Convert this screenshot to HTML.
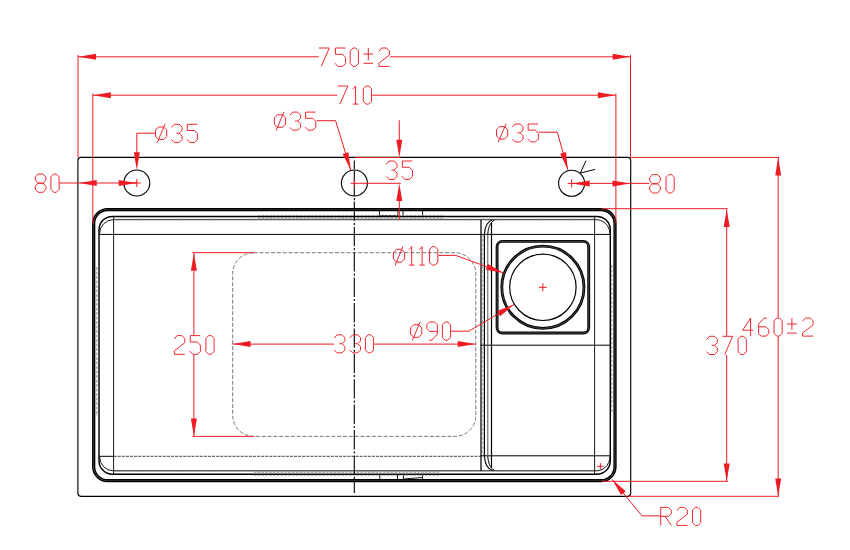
<!DOCTYPE html>
<html><head><meta charset="utf-8"><title>Sink drawing</title>
<style>html,body{margin:0;padding:0;background:#fff;font-family:"Liberation Sans",sans-serif;}svg{display:block;position:absolute;left:0;top:0}</style>
</head><body>
<svg width="850" height="550" viewBox="0 0 850 550">
<rect width="850" height="550" fill="#fff"/>
<rect x="77.9" y="157.4" width="552.80" height="338.90" rx="3" ry="3" fill="none" stroke="#000" stroke-width="1.15" />
<rect x="93.7" y="209.6" width="521.30" height="271.00" rx="13.9" ry="13.9" fill="none" stroke="#555" stroke-width="1.0" />
<rect x="92.8" y="208.7" width="523.10" height="272.80" rx="14.8" ry="14.8" fill="none" stroke="#000" stroke-width="1.5" />
<rect x="94.6" y="210.5" width="519.50" height="269.20" rx="13.0" ry="13.0" fill="none" stroke="#000" stroke-width="1.4" />
<rect x="99.0" y="216.4" width="511.30" height="257.90" rx="13.5" ry="13.5" fill="none" stroke="#000" stroke-width="1.45" />
<path d="M99.6,233.5 A13.8,13.8 0 0 1 113.4,219.7 L594.8,219.7 A13.8,13.8 0 0 1 609.8,233.5" fill="none" stroke="#000" stroke-width="0.9" />
<path d="M99.6,457 A13.8,13.8 0 0 0 113.4,470.8 L594.8,470.8 A13.8,13.8 0 0 0 609.8,457" fill="none" stroke="#000" stroke-width="0.9" />
<line x1="113.6" y1="216.3" x2="113.6" y2="474.4" stroke="#000" stroke-width="0.9" />
<line x1="594.6" y1="216.3" x2="594.6" y2="474.4" stroke="#000" stroke-width="0.9" />
<line x1="99" y1="234.4" x2="610.4" y2="234.4" stroke="#000" stroke-width="1.0" />
<line x1="99" y1="456.3" x2="113.6" y2="456.3" stroke="#000" stroke-width="1.0" />
<line x1="113.6" y1="456.3" x2="480.6" y2="456.3" stroke="#111" stroke-width="0.8" stroke-dasharray="3 1.1"/>
<line x1="480.6" y1="455.8" x2="610.4" y2="455.8" stroke="#000" stroke-width="1.0" />
<line x1="480.6" y1="345.2" x2="610.2" y2="345.2" stroke="#000" stroke-width="1.0" />
<line x1="481.0" y1="219.7" x2="481.0" y2="470.8" stroke="#000" stroke-width="1.25" />
<line x1="482.7" y1="234.4" x2="482.7" y2="456" stroke="#777" stroke-width="0.6" stroke-dasharray="3 1.5"/>
<line x1="484.4" y1="234.4" x2="484.4" y2="456" stroke="#000" stroke-width="1.2" />
<line x1="487.8" y1="234.4" x2="487.8" y2="456" stroke="#555" stroke-width="1.0" />
<line x1="491.5" y1="223" x2="491.5" y2="467.5" stroke="#000" stroke-width="1.2" />
<path d="M484.4,234.4 C484.8,227 487.5,221.5 492.5,219.8" fill="none" stroke="#000" stroke-width="1.1" />
<path d="M487.8,234.4 C488.1,227.5 490.2,222.5 494.4,220" fill="none" stroke="#000" stroke-width="1.0" />
<path d="M484.4,456 C484.8,463.4 487.5,468.9 492.5,470.6" fill="none" stroke="#000" stroke-width="1.1" />
<path d="M487.8,456 C488.1,462.9 490.2,467.9 494.4,470.4" fill="none" stroke="#000" stroke-width="1.0" />
<rect x="497.1" y="241.4" width="91.60" height="91.60" rx="5.2" ry="5.2" fill="none" stroke="#000" stroke-width="2.9" />
<rect x="497.1" y="241.4" width="91.60" height="91.60" rx="5.2" ry="5.2" fill="none" stroke="#999" stroke-width="0.45" />
<circle cx="542.9" cy="287.3" r="41.1" fill="none" stroke="#000" stroke-width="2.8"/>
<circle cx="542.9" cy="287.3" r="41.1" fill="none" stroke="#999" stroke-width="0.45"/>
<circle cx="542.9" cy="287.3" r="33.2" fill="none" stroke="#000" stroke-width="1.2"/>
<circle cx="136.8" cy="183.0" r="13" fill="none" stroke="#000" stroke-width="1.1"/>
<circle cx="354.4" cy="183.0" r="13" fill="none" stroke="#000" stroke-width="1.1"/>
<circle cx="571.6" cy="183.3" r="13" fill="none" stroke="#000" stroke-width="1.1"/>
<line x1="580.3" y1="173.1" x2="586.0" y2="160.7" stroke="#000" stroke-width="1.0" />
<line x1="580.3" y1="173.1" x2="595.1" y2="169.4" stroke="#000" stroke-width="1.0" />
<path d="M379.4,210.8 V216.2 M398,210.8 V215.6 M403,210.8 V216.2 M422.6,210.8 V216.2 M379.4,215.6 H398" fill="none" stroke="#000" stroke-width="0.9" />
<path d="M379.8,474.4 V480 M397.5,474.4 V480 M403.5,474.4 V480 M422.6,474.4 V480 M403.5,479 L422.6,477.5" fill="none" stroke="#000" stroke-width="0.9" />
<line x1="258" y1="215.4" x2="443" y2="215.4" stroke="#8a8a8a" stroke-width="0.85" stroke-dasharray="2.5 1.3"/>
<line x1="258" y1="217.6" x2="443" y2="217.6" stroke="#8a8a8a" stroke-width="0.85" stroke-dasharray="2.5 1.3"/>
<line x1="258" y1="218.8" x2="443" y2="218.8" stroke="#8a8a8a" stroke-width="0.85" stroke-dasharray="2.5 1.3"/>
<line x1="254" y1="471.9" x2="439" y2="471.9" stroke="#8a8a8a" stroke-width="0.85" stroke-dasharray="2.5 1.3"/>
<line x1="254" y1="473.0" x2="439" y2="473.0" stroke="#8a8a8a" stroke-width="0.85" stroke-dasharray="2.5 1.3"/>
<line x1="254" y1="475.2" x2="439" y2="475.2" stroke="#8a8a8a" stroke-width="0.85" stroke-dasharray="2.5 1.3"/>
<line x1="113.6" y1="219.0" x2="594.6" y2="219.0" stroke="#999" stroke-width="0.6" stroke-dasharray="3 1.5"/>
<line x1="113.6" y1="471.5" x2="594.6" y2="471.5" stroke="#999" stroke-width="0.6" stroke-dasharray="3 1.5"/>
<line x1="96.8" y1="267" x2="96.8" y2="416" stroke="#777" stroke-width="0.8" stroke-dasharray="3 1.5"/>
<line x1="611.8" y1="265" x2="611.8" y2="413" stroke="#777" stroke-width="0.8" stroke-dasharray="3 1.5"/>
<rect x="232.7" y="252.7" width="243.10" height="183.70" rx="21" ry="21" fill="none" stroke="#606060" stroke-width="0.85" stroke-dasharray="4 1.8"/>
<line x1="354.3" y1="160.6" x2="354.3" y2="169" stroke="#000" stroke-width="1.1" />
<line x1="354.3" y1="170.6" x2="354.3" y2="196" stroke="#000" stroke-width="1.1" />
<line x1="354.3" y1="198" x2="354.3" y2="200.2" stroke="#000" stroke-width="1.1" />
<line x1="354.3" y1="201.4" x2="354.3" y2="493" stroke="#000" stroke-width="1.1" stroke-dasharray="19.4 1.9 2.2 1.9"/>
<line x1="78.0" y1="55" x2="78.0" y2="157.5" stroke="#ed1c24" stroke-width="1.0" />
<line x1="630.5" y1="55" x2="630.5" y2="157.5" stroke="#ed1c24" stroke-width="1.0" />
<line x1="92.8" y1="93.6" x2="92.8" y2="223" stroke="#ed1c24" stroke-width="1.0" />
<line x1="615.9" y1="93.6" x2="615.9" y2="223" stroke="#ed1c24" stroke-width="1.0" />
<line x1="78" y1="56.8" x2="318.8" y2="56.8" stroke="#ed1c24" stroke-width="1.0" />
<line x1="390.2" y1="56.8" x2="630.5" y2="56.8" stroke="#ed1c24" stroke-width="1.0" />
<polygon points="78.30,56.80 96.00,53.80 96.00,59.80" fill="#ed1c24"/>
<polygon points="630.30,56.80 612.60,59.80 612.60,53.80" fill="#ed1c24"/>
<path d="M318.90,48.00 L329.30,48.00 L321.31,66.40 M345.41,48.00 L335.46,48.00 L335.46,54.29 L342.53,54.29 L345.60,57.49 L345.60,63.49 L342.81,66.40 L337.97,66.40 L334.90,63.20 M352.93,48.00 L355.67,48.00 L358.40,50.91 L358.40,63.49 L355.67,66.40 L352.93,66.40 L350.20,63.49 L350.20,50.91 L352.93,48.00 M363.40,54.00 L373.20,54.00 M368.30,48.00 L368.30,60.20 M363.40,63.30 L373.20,63.30 M378.90,51.29 L381.69,48.00 L386.61,48.00 L389.40,50.91 L389.40,54.97 L378.90,63.11 L378.90,66.40 L389.40,66.40" fill="none" stroke="#ed1c24" stroke-width="0.95" stroke-linejoin="round" stroke-linecap="butt"/>
<line x1="92.8" y1="95.2" x2="337.3" y2="95.2" stroke="#ed1c24" stroke-width="1.0" />
<line x1="372.2" y1="95.2" x2="615.9" y2="95.2" stroke="#ed1c24" stroke-width="1.0" />
<polygon points="93.10,95.20 110.80,92.20 110.80,98.20" fill="#ed1c24"/>
<polygon points="615.60,95.20 597.90,98.20 597.90,92.20" fill="#ed1c24"/>
<path d="M337.50,86.00 L347.90,86.00 L339.91,104.10 M352.80,89.05 L355.60,86.00 L355.60,104.10 M352.80,104.10 L358.40,104.10 M366.03,86.00 L368.77,86.00 L371.50,88.86 L371.50,101.24 L368.77,104.10 L366.03,104.10 L363.30,101.24 L363.30,88.86 L366.03,86.00" fill="none" stroke="#ed1c24" stroke-width="0.95" stroke-linejoin="round" stroke-linecap="butt"/>
<path d="M158.58,126.97 L163.62,126.97 L166.70,130.11 L166.70,136.40 L163.62,139.54 L158.58,139.54 L155.50,136.40 L155.50,130.11 L158.58,126.97 M165.11,124.01 L157.18,142.78 M171.40,127.54 L174.19,124.30 L179.31,124.30 L182.10,127.16 L182.10,130.40 L179.31,133.25 L176.42,133.25 M179.31,133.25 L182.10,136.11 L182.10,139.54 L179.31,142.40 L174.19,142.40 L171.40,139.54 M197.21,124.30 L187.26,124.30 L187.26,130.49 L194.33,130.49 L197.40,133.64 L197.40,139.54 L194.61,142.40 L189.77,142.40 L186.70,139.26" fill="none" stroke="#ed1c24" stroke-width="0.95" stroke-linejoin="round" stroke-linecap="butt"/>
<path d="M155.1,133.2 H136.8 V160" fill="none" stroke="#ed1c24" stroke-width="1.0" />
<polygon points="136.80,170.00 133.80,152.30 139.80,152.30" fill="#ed1c24"/>
<path d="M277.48,114.77 L282.52,114.77 L285.60,117.91 L285.60,124.20 L282.52,127.34 L277.48,127.34 L274.40,124.20 L274.40,117.91 L277.48,114.77 M284.01,111.81 L276.08,130.58 M289.90,115.34 L292.69,112.10 L297.81,112.10 L300.60,114.96 L300.60,118.20 L297.81,121.05 L294.92,121.05 M297.81,121.05 L300.60,123.91 L300.60,127.34 L297.81,130.20 L292.69,130.20 L289.90,127.34 M315.61,112.10 L305.66,112.10 L305.66,118.29 L312.73,118.29 L315.80,121.44 L315.80,127.34 L313.01,130.20 L308.17,130.20 L305.10,127.06" fill="none" stroke="#ed1c24" stroke-width="0.95" stroke-linejoin="round" stroke-linecap="butt"/>
<path d="M316.8,120.7 H335.6 L350.7,170" fill="none" stroke="#ed1c24" stroke-width="1.0" />
<polygon points="350.70,170.00 342.65,153.95 348.38,152.20" fill="#ed1c24"/>
<path d="M499.58,126.64 L504.62,126.64 L507.70,129.75 L507.70,135.96 L504.62,139.07 L499.58,139.07 L496.50,135.96 L496.50,129.75 L499.58,126.64 M506.11,123.72 L498.18,142.28 M512.30,127.20 L515.09,124.00 L520.21,124.00 L523.00,126.83 L523.00,130.03 L520.21,132.86 L517.32,132.86 M520.21,132.86 L523.00,135.68 L523.00,139.07 L520.21,141.90 L515.09,141.90 L512.30,139.07 M538.11,124.00 L528.16,124.00 L528.16,130.12 L535.23,130.12 L538.30,133.23 L538.30,139.07 L535.51,141.90 L530.67,141.90 L527.60,138.79" fill="none" stroke="#ed1c24" stroke-width="0.95" stroke-linejoin="round" stroke-linecap="butt"/>
<path d="M539,132.2 H557.3 L567.9,169.9" fill="none" stroke="#ed1c24" stroke-width="1.0" />
<polygon points="567.90,169.90 560.22,153.67 566.00,152.05" fill="#ed1c24"/>
<path d="M38.00,174.00 L43.20,174.00 L45.90,177.08 L45.90,180.16 L43.20,183.15 L38.00,183.15 L35.30,180.16 L35.30,177.08 L38.00,174.00 M38.00,183.15 L43.20,183.15 L45.90,186.23 L45.90,189.22 L43.20,192.30 L38.00,192.30 L35.30,189.22 L35.30,186.23 L38.00,183.15 M53.63,174.00 L56.37,174.00 L59.10,176.89 L59.10,189.41 L56.37,192.30 L53.63,192.30 L50.90,189.41 L50.90,176.89 L53.63,174.00" fill="none" stroke="#ed1c24" stroke-width="0.95" stroke-linejoin="round" stroke-linecap="butt"/>
<line x1="59.8" y1="183.0" x2="136.8" y2="183.0" stroke="#ed1c24" stroke-width="1.0" />
<polygon points="79.00,183.00 96.70,180.00 96.70,186.00" fill="#ed1c24"/>
<polygon points="136.40,183.00 118.70,186.00 118.70,180.00" fill="#ed1c24"/>
<path d="M652.40,174.60 L657.60,174.60 L660.30,177.70 L660.30,180.80 L657.60,183.80 L652.40,183.80 L649.70,180.80 L649.70,177.70 L652.40,174.60 M652.40,183.80 L657.60,183.80 L660.30,186.90 L660.30,189.90 L657.60,193.00 L652.40,193.00 L649.70,189.90 L649.70,186.90 L652.40,183.80 M668.73,174.60 L671.47,174.60 L674.20,177.51 L674.20,190.09 L671.47,193.00 L668.73,193.00 L666.00,190.09 L666.00,177.51 L668.73,174.60" fill="none" stroke="#ed1c24" stroke-width="0.95" stroke-linejoin="round" stroke-linecap="butt"/>
<line x1="571.6" y1="183.4" x2="649.3" y2="183.4" stroke="#ed1c24" stroke-width="1.0" />
<polygon points="572.00,183.40 589.70,180.40 589.70,186.40" fill="#ed1c24"/>
<polygon points="630.20,183.40 612.50,186.40 612.50,180.40" fill="#ed1c24"/>
<path d="M386.30,164.29 L389.09,161.00 L394.21,161.00 L397.00,163.91 L397.00,167.20 L394.21,170.10 L391.32,170.10 M394.21,170.10 L397.00,173.01 L397.00,176.49 L394.21,179.40 L389.09,179.40 L386.30,176.49 M412.31,161.00 L402.36,161.00 L402.36,167.29 L409.43,167.29 L412.50,170.49 L412.50,176.49 L409.71,179.40 L404.87,179.40 L401.80,176.20" fill="none" stroke="#ed1c24" stroke-width="0.95" stroke-linejoin="round" stroke-linecap="butt"/>
<line x1="354.5" y1="157.4" x2="400.8" y2="157.4" stroke="#ed1c24" stroke-width="1.0" />
<line x1="350.7" y1="183.3" x2="400.8" y2="183.3" stroke="#ed1c24" stroke-width="1.0" />
<line x1="399.3" y1="120.3" x2="399.3" y2="150" stroke="#ed1c24" stroke-width="1.0" />
<polygon points="399.30,157.40 396.30,139.70 402.30,139.70" fill="#ed1c24"/>
<line x1="399.3" y1="190" x2="399.3" y2="219.7" stroke="#ed1c24" stroke-width="1.0" />
<polygon points="399.30,183.40 402.30,201.10 396.30,201.10" fill="#ed1c24"/>
<line x1="132.8" y1="183.0" x2="140.8" y2="183.0" stroke="#ed1c24" stroke-width="1.0" />
<line x1="136.8" y1="179.0" x2="136.8" y2="187.0" stroke="#ed1c24" stroke-width="1.0" />
<line x1="567.6" y1="183.4" x2="575.6" y2="183.4" stroke="#ed1c24" stroke-width="1.0" />
<line x1="571.6" y1="179.4" x2="571.6" y2="187.4" stroke="#ed1c24" stroke-width="1.0" />
<line x1="538.9" y1="287.3" x2="546.9" y2="287.3" stroke="#ed1c24" stroke-width="1.0" />
<line x1="542.9" y1="283.3" x2="542.9" y2="291.3" stroke="#ed1c24" stroke-width="1.0" />
<line x1="597.1999999999999" y1="466.3" x2="603.6" y2="466.3" stroke="#ed1c24" stroke-width="1.0" />
<line x1="600.4" y1="463.1" x2="600.4" y2="469.5" stroke="#ed1c24" stroke-width="1.0" />
<line x1="354.4" y1="179.3" x2="354.4" y2="187.3" stroke="#ed1c24" stroke-width="1.0" />
<path d="M396.48,249.33 L401.52,249.33 L404.60,252.54 L404.60,258.97 L401.52,262.18 L396.48,262.18 L393.40,258.97 L393.40,252.54 L396.48,249.33 M403.01,246.31 L395.08,265.49 M408.90,249.72 L411.70,246.60 L411.70,265.10 M408.90,265.10 L414.50,265.10 M419.30,249.72 L422.10,246.60 L422.10,265.10 M419.30,265.10 L424.90,265.10 M432.33,246.60 L435.07,246.60 L437.80,249.52 L437.80,262.18 L435.07,265.10 L432.33,265.10 L429.60,262.18 L429.60,249.52 L432.33,246.60" fill="none" stroke="#ed1c24" stroke-width="0.95" stroke-linejoin="round" stroke-linecap="butt"/>
<path d="M438.5,255.4 H455.7 L503.6,272.9" fill="none" stroke="#ed1c24" stroke-width="1.0" />
<polygon points="503.60,272.90 485.95,269.64 488.00,264.01" fill="#ed1c24"/>
<path d="M413.68,324.68 L418.72,324.68 L421.80,327.84 L421.80,334.17 L418.72,337.33 L413.68,337.33 L410.60,334.17 L410.60,327.84 L413.68,324.68 M420.21,321.71 L412.28,340.58 M429.12,340.20 L432.00,340.20 L437.30,334.07 L437.30,324.59 L434.61,322.00 L429.59,322.00 L426.80,324.59 L426.80,328.51 L429.59,331.39 L437.30,331.39 M445.13,322.00 L447.87,322.00 L450.60,324.87 L450.60,337.33 L447.87,340.20 L445.13,340.20 L442.40,337.33 L442.40,324.87 L445.13,322.00" fill="none" stroke="#ed1c24" stroke-width="0.95" stroke-linejoin="round" stroke-linecap="butt"/>
<path d="M451,331.2 H468.8 L513.9,304.6" fill="none" stroke="#ed1c24" stroke-width="1.0" />
<polygon points="513.90,304.60 500.18,316.18 497.13,311.01" fill="#ed1c24"/>
<path d="M334.20,338.02 L336.99,334.80 L342.11,334.80 L344.90,337.64 L344.90,340.86 L342.11,343.71 L339.22,343.71 M342.11,343.71 L344.90,346.55 L344.90,349.96 L342.11,352.80 L336.99,352.80 L334.20,349.96 M349.80,338.02 L352.59,334.80 L357.71,334.80 L360.50,337.64 L360.50,340.86 L357.71,343.71 L354.82,343.71 M357.71,343.71 L360.50,346.55 L360.50,349.96 L357.71,352.80 L352.59,352.80 L349.80,349.96 M368.13,334.80 L370.87,334.80 L373.60,337.64 L373.60,349.96 L370.87,352.80 L368.13,352.80 L365.40,349.96 L365.40,337.64 L368.13,334.80" fill="none" stroke="#ed1c24" stroke-width="0.95" stroke-linejoin="round" stroke-linecap="butt"/>
<line x1="232.7" y1="344.1" x2="334.2" y2="344.1" stroke="#ed1c24" stroke-width="1.0" />
<line x1="374.2" y1="344.1" x2="475.6" y2="344.1" stroke="#ed1c24" stroke-width="1.0" />
<polygon points="232.90,344.10 250.60,341.10 250.60,347.10" fill="#ed1c24"/>
<polygon points="475.40,344.10 457.70,347.10 457.70,341.10" fill="#ed1c24"/>
<path d="M174.30,338.95 L177.09,335.60 L182.01,335.60 L184.80,338.55 L184.80,342.69 L174.30,350.95 L174.30,354.30 L184.80,354.30 M200.21,335.60 L190.26,335.60 L190.26,342.00 L197.33,342.00 L200.40,345.25 L200.40,351.35 L197.61,354.30 L192.77,354.30 L189.70,351.05 M208.63,335.60 L211.37,335.60 L214.10,338.55 L214.10,351.35 L211.37,354.30 L208.63,354.30 L205.90,351.35 L205.90,338.55 L208.63,335.60" fill="none" stroke="#ed1c24" stroke-width="0.95" stroke-linejoin="round" stroke-linecap="butt"/>
<line x1="192.4" y1="252.7" x2="254.2" y2="252.7" stroke="#ed1c24" stroke-width="1.0" />
<line x1="192.4" y1="436.4" x2="254.2" y2="436.4" stroke="#ed1c24" stroke-width="1.0" />
<line x1="193.9" y1="253" x2="193.9" y2="335.2" stroke="#ed1c24" stroke-width="1.0" />
<line x1="193.9" y1="354.7" x2="193.9" y2="436.4" stroke="#ed1c24" stroke-width="1.0" />
<polygon points="193.90,253.00 196.90,270.70 190.90,270.70" fill="#ed1c24"/>
<polygon points="193.90,436.20 190.90,418.50 196.90,418.50" fill="#ed1c24"/>
<path d="M706.60,339.56 L709.39,336.30 L714.51,336.30 L717.30,339.17 L717.30,342.43 L714.51,345.30 L711.62,345.30 M714.51,345.30 L717.30,348.18 L717.30,351.63 L714.51,354.50 L709.39,354.50 L706.60,351.63 M722.30,336.30 L732.70,336.30 L724.71,354.50 M740.83,336.30 L743.57,336.30 L746.30,339.17 L746.30,351.63 L743.57,354.50 L740.83,354.50 L738.10,351.63 L738.10,339.17 L740.83,336.30" fill="none" stroke="#ed1c24" stroke-width="0.95" stroke-linejoin="round" stroke-linecap="butt"/>
<line x1="601.7" y1="208.7" x2="727.8" y2="208.7" stroke="#ed1c24" stroke-width="1.0" />
<line x1="601.7" y1="481.3" x2="727.8" y2="481.3" stroke="#ed1c24" stroke-width="1.0" />
<line x1="726.7" y1="209.3" x2="726.7" y2="335.9" stroke="#ed1c24" stroke-width="1.0" />
<line x1="726.7" y1="354.9" x2="726.7" y2="481.3" stroke="#ed1c24" stroke-width="1.0" />
<polygon points="726.70,209.30 729.70,227.00 723.70,227.00" fill="#ed1c24"/>
<polygon points="726.70,481.30 723.70,463.60 729.70,463.60" fill="#ed1c24"/>
<path d="M750.60,318.10 L742.70,330.23 L753.20,330.23 M750.60,318.10 L750.60,336.10 M766.95,318.10 L763.98,318.10 L758.60,324.16 L758.60,333.54 L761.20,336.10 L766.02,336.10 L768.80,333.54 L768.80,329.66 L766.02,326.82 L758.60,326.82 M776.73,318.10 L779.47,318.10 L782.20,320.94 L782.20,333.26 L779.47,336.10 L776.73,336.10 L774.00,333.26 L774.00,320.94 L776.73,318.10 M787.00,323.97 L796.80,323.97 M791.90,318.10 L791.90,330.04 M787.00,333.07 L796.80,333.07 M802.60,321.32 L805.39,318.10 L810.31,318.10 L813.10,320.94 L813.10,324.92 L802.60,332.88 L802.60,336.10 L813.10,336.10" fill="none" stroke="#ed1c24" stroke-width="0.95" stroke-linejoin="round" stroke-linecap="butt"/>
<line x1="630.5" y1="157.4" x2="779.1" y2="157.4" stroke="#ed1c24" stroke-width="1.0" />
<line x1="628" y1="496.3" x2="779.1" y2="496.3" stroke="#ed1c24" stroke-width="1.0" />
<line x1="778.2" y1="157.7" x2="778.2" y2="317.7" stroke="#ed1c24" stroke-width="1.0" />
<line x1="778.2" y1="336.5" x2="778.2" y2="496.1" stroke="#ed1c24" stroke-width="1.0" />
<polygon points="778.20,157.70 781.20,175.40 775.20,175.40" fill="#ed1c24"/>
<polygon points="778.20,496.10 775.20,478.40 781.20,478.40" fill="#ed1c24"/>
<path d="M660.70,525.40 L660.70,507.40 L668.52,507.40 L671.40,510.34 L671.40,513.46 L668.52,516.31 L660.70,516.31 M664.98,516.31 L671.40,525.40 M676.90,510.62 L679.69,507.40 L684.61,507.40 L687.40,510.24 L687.40,514.22 L676.90,522.18 L676.90,525.40 L687.40,525.40 M695.23,507.40 L697.97,507.40 L700.70,510.24 L700.70,522.56 L697.97,525.40 L695.23,525.40 L692.50,522.56 L692.50,510.24 L695.23,507.40" fill="none" stroke="#ed1c24" stroke-width="0.95" stroke-linejoin="round" stroke-linecap="butt"/>
<path d="M660.3,515.9 H642 L612.2,479.5" fill="none" stroke="#ed1c24" stroke-width="1.0" />
<polygon points="612.20,479.50 625.73,491.30 621.09,495.10" fill="#ed1c24"/>
</svg>
</body></html>
